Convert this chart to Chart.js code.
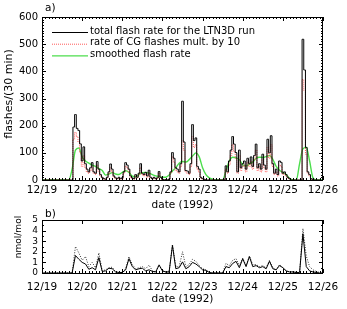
<!DOCTYPE html>
<html><head><meta charset="utf-8">
<script src="https://cdn.jsdelivr.net/npm/chart.js@4.4.0/dist/chart.umd.min.js"></script>
<style>
html,body{margin:0;padding:0;background:#fff;}
#wrap{position:relative;width:347px;height:309px;overflow:hidden;background:#fff;}
canvas{position:absolute;left:0;}
</style></head><body>
<div id="wrap">
<canvas id="ca" width="347" height="210" style="top:0px"></canvas>
<canvas id="cb" width="347" height="101" style="top:208px"></canvas>
</div>
<script>
// ---------- data ----------
const dateTicks = ['12/19','12/20','12/21','12/22','12/23','12/24','12/25','12/26'];
// hourly values, hour 0 = 12/19 00:00
const totalFlash = [
 0,0,0,0,0,0,0,0,0,0,0,0,0,0,0,0,0,0,0,
 195,241,190,182,133,70,
 122,60,40,30,45,64,30,25,68,40,20,10,
 5,3,10,30,59,40,15,8,5,10,5,8,
 30,64,55,40,15,8,5,20,10,25,60,25,
 20,28,15,36,10,5,10,5,8,31,10,3,
 0,2,0,3,30,101,80,45,40,30,60,290,
 140,35,33,25,60,204,145,155,50,40,10,5,
 3,0,0,0,0,0,0,0,0,0,0,0,0,
 52,30,70,110,160,132,101,30,110,45,60,70,
 40,80,60,85,50,90,132,45,60,40,95,55,
 40,150,100,163,60,25,40,20,70,65,25,30,
 20,10,5,0,0,0,0,0,0,0,
 518,405,120,30,20,5,0,0,0,0,0,0];
const cgFlashX10 = [
 0,0,0,0,0,0,0,0,0,0,0,0,0,0,0,0,0,0,0,
 150,175,160,140,100,50,
 90,45,30,25,35,50,25,20,55,30,15,8,
 3,2,8,25,45,30,10,5,3,8,3,5,
 25,50,45,30,10,5,3,15,8,20,45,20,
 15,20,10,25,8,3,8,3,5,25,8,2,
 0,0,0,2,25,85,65,35,30,25,50,145,
 110,30,25,20,50,160,120,130,40,30,8,3,
 2,0,0,0,0,0,0,0,0,0,0,0,0,
 40,25,55,90,130,105,80,25,90,35,50,55,
 30,65,50,70,40,75,110,35,50,30,75,45,
 30,120,80,130,50,20,30,15,55,50,20,25,
 15,8,3,0,0,0,0,0,0,0,
 370,330,95,25,15,3,0,0,0,0,0,0];
// 2-hourly values, hour 0..168
const smoothedFlash = [
 0,0,0,0,0,0,0,0,0,
 40,110,118,85,70,62,55,50,42,35,
 18,22,27,22,20,28,34,28,14,12,
 20,27,28,25,20,15,12,10,10,18,
 33,45,62,68,66,75,88,100,85,45,
 20,8,3,0,0,0,35,70,84,82,
 75,56,52,58,66,80,84,83,86,90,
 76,50,36,28,20,6,0,0,60,115,
 120,70,8,0,0,0];
const noxSolid = [
 0,0,0,0,0,0,0,0,0,0,
 1.65,1.3,1.0,0.85,0.35,0.5,0.3,1.45,0.15,0.2,
 0.45,0.4,0.1,0.05,0.05,0.3,1.35,0.6,0.3,0.4,
 0.45,0.2,0.3,0.15,0.1,0.75,0.2,0.1,0.1,2.6,
 0.4,0.5,1.05,0.4,0.6,1.0,0.85,0.6,0.3,0.25,
 0.05,0,0,0,0,0.6,0.5,0.9,1.1,0.5,
 1.35,0.6,1.55,0.6,0.7,0.5,0.6,0.4,1.1,0.4,
 0.3,0.7,0.5,0.2,0.1,0.1,0.05,0.05,3.7,0.6,
 0.2,0.1,0.05,0,0];
const noxDotted = [
 0,0,0,0,0,0,0,0,0,0,
 2.5,1.9,1.2,1.55,0.6,1.0,0.5,1.9,0.2,0.3,
 0.5,0.55,0.1,0.05,0.05,0.4,1.55,0.8,0.4,0.5,
 0.6,0.4,0.75,0.2,0.1,0.8,0.2,0.1,0.1,2.7,
 0.6,0.6,2.0,0.6,0.8,1.3,1.1,0.7,0.4,0.3,
 0.05,0,0,0,0,0.9,0.7,1.2,1.35,0.7,
 1.4,0.7,1.6,0.8,0.8,0.6,0.7,0.5,1.2,0.5,
 0.3,0.8,0.5,0.2,0.1,0.1,0.05,0.05,4.2,1.6,
 0.6,0.3,0.15,0.05,0];

const hourly = arr => arr.map((v,i)=>({x:i, y:v}));
const twoHourly = arr => arr.map((v,i)=>({x:2*i, y:v}));

const FONT = 'DejaVu Sans';

// ---------- plugins ----------
const frameTicks = {
  id:'frameTicks',
  afterDatasetsDraw(chart, args, o){
    const {ctx, chartArea:a, scales:{x,y}} = chart;
    ctx.save();
    ctx.strokeStyle='#000'; ctx.lineWidth=1;
    ctx.beginPath();
    const isMaj=(v,m)=>Math.abs(v/m-Math.round(v/m))<1e-6;
    for(let k=0; x.min+k*o.xMinor<=x.max+1e-9; k++){
      const v=x.min+k*o.xMinor;
      const px=Math.round(x.getPixelForValue(v))+0.5;
      const L=isMaj(v,o.xMajor)?o.majLen:o.minLen;
      ctx.moveTo(px,a.bottom); ctx.lineTo(px,a.bottom-L);
      if(o.topMinor || isMaj(v,o.xMajor)){ctx.moveTo(px,a.top); ctx.lineTo(px,a.top+L);}
    }
    for(let k=0; y.min+k*o.yMinor<=y.max+1e-9; k++){
      const v=y.min+k*o.yMinor;
      const py=Math.round(y.getPixelForValue(v))+0.5;
      const L=isMaj(v,o.yMajor)?o.majLen:o.minLen;
      ctx.moveTo(a.left,py); ctx.lineTo(a.left+L,py);
      ctx.moveTo(a.right,py); ctx.lineTo(a.right-L,py);
    }
    ctx.stroke();
    ctx.strokeRect(Math.round(a.left)+0.5, Math.round(a.top)+0.5, Math.round(a.right-a.left)-1, Math.round(a.bottom-a.top));
    ctx.restore();
  }
};
const texts = {
  id:'texts',
  afterDraw(chart, args, o){
    const {ctx, chartArea:a} = chart;
    ctx.save();
    ctx.fillStyle='#000';
    (o.items||[]).forEach(t=>{
      ctx.font = t.size+'px "'+FONT+'"';
      ctx.textBaseline='middle';
      ctx.textAlign=t.align||'center';
      const cx = t.x==='mid' ? (a.left+a.right)/2 : t.x;
      const cy = t.y==='mid' ? (a.top+a.bottom)/2 : t.y;
      if(t.rot){ctx.save(); ctx.translate(cx,cy); ctx.rotate(t.rot); ctx.fillText(t.text,0,0); ctx.restore();}
      else ctx.fillText(t.text,cx,cy);
    });
    if(o.legend){
      const L=o.legend;
      chart.data.datasets.forEach((d,i)=>{
        const yy=L.y0+i*L.dy;
        ctx.save();
        ctx.strokeStyle=d.borderColor; ctx.lineWidth=d.borderWidth||1;
        ctx.setLineDash(d.borderDash||[]);
        ctx.beginPath(); ctx.moveTo(L.x0,yy+1.5); ctx.lineTo(L.x1,yy+1.5); ctx.stroke();
        ctx.restore();
        ctx.font=L.size+'px "'+FONT+'"';
        ctx.textAlign='left'; ctx.textBaseline='middle';
        ctx.fillText(d.label, L.tx, yy);
      });
    }
    ctx.restore();
  }
};

function xScale(h, pad){
  return {
    type:'linear', min:0, max:168,
    grid:{display:false, drawTicks:false}, border:{display:false},
    ticks:{stepSize:24, autoSkip:false, maxRotation:0, padding:pad, color:'#000',
      font:{family:FONT,size:10.5},
      callback:(v)=>dateTicks[Math.round(v/24)]},
    afterFit:(s)=>{s.height=h;}
  };
}
function yScale(min,max,step,fs){
  return {
    type:'linear', min:min, max:max,
    grid:{display:false, drawTicks:false}, border:{display:false},
    ticks:{stepSize:step, autoSkip:false, padding:4, color:'#000', font:{family:FONT,size:fs}},
    afterFit:(s)=>{s.width=42;}
  };
}

// ---------- chart a ----------
new Chart(document.getElementById('ca'), {
  type:'line',
  data:{datasets:[
    {label:'total flash rate for the LTN3D run', data:hourly(totalFlash), borderColor:'#000', borderWidth:1, stepped:'middle', pointRadius:0},
    {label:'rate of CG flashes mult. by 10', data:hourly(cgFlashX10), borderColor:'#ff5a5a', borderWidth:1, borderDash:[1,1], stepped:'middle', pointRadius:0},
    {label:'smoothed flash rate', data:twoHourly(smoothedFlash), borderColor:'#4cde4c', borderWidth:1.4, cubicInterpolationMode:'monotone', pointRadius:0}
  ]},
  options:{
    responsive:false, animation:false, events:[],
    layout:{padding:{top:17, right:24, left:0, bottom:0}},
    scales:{x:xScale(30,4), y:yScale(0,600,100,10)},
    plugins:{
      legend:{display:false}, tooltip:{enabled:false}, title:{display:false},
      frameTicks:{xMinor:2, xMajor:24, yMinor:10, yMajor:100, majLen:4, minLen:2, topMinor:true},
      texts:{
        items:[
          {text:'a)', x:45, y:8, size:10.5, align:'left'},
          {text:'date (1992)', x:'mid', y:205.5, size:10.5},
          {text:'flashes/(30 min)', x:9, y:94, size:11, rot:-Math.PI/2}
        ],
        legend:{x0:52, x1:88, tx:90, y0:31, dy:11.7, size:10}
      }
    }
  },
  plugins:[frameTicks, texts]
});

// ---------- chart b ----------
new Chart(document.getElementById('cb'), {
  type:'line',
  data:{datasets:[
    {label:'NOx solid', data:twoHourly(noxSolid), borderColor:'#000', borderWidth:1, pointRadius:0, tension:0},
    {label:'NOx dotted', data:twoHourly(noxDotted), borderColor:'#333', borderWidth:1, borderDash:[1,1.5], pointRadius:0, tension:0}
  ]},
  options:{
    responsive:false, animation:false, events:[],
    layout:{padding:{top:12, right:24, left:0, bottom:0}},
    scales:{x:xScale(36,7.5), y:yScale(0,5,1,9)},
    plugins:{
      legend:{display:false}, tooltip:{enabled:false}, title:{display:false},
      frameTicks:{xMinor:2, xMajor:24, yMinor:0.5, yMajor:1, majLen:4, minLen:2, topMinor:false},
      texts:{
        items:[
          {text:'b)', x:45, y:6.5, size:10.5, align:'left'},
          {text:'date (1992)', x:'mid', y:91, size:10.5},
          {text:'nmol/mol', x:19, y:29, size:9, rot:-Math.PI/2}
        ]
      }
    }
  },
  plugins:[frameTicks, texts]
});
</script>
</body></html>
